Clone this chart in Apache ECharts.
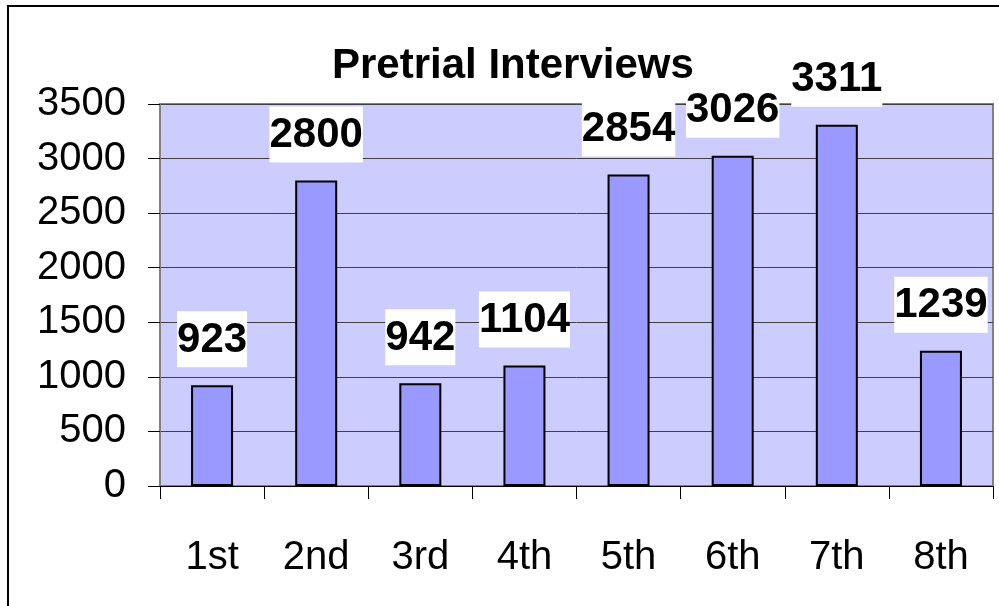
<!DOCTYPE html>
<html>
<head>
<meta charset="utf-8">
<script src="https://cdn.jsdelivr.net/npm/echarts@6/dist/echarts.min.js"></script>
<style>
  html, body { margin: 0; padding: 0; background: #fff; }
  #main { width: 999px; height: 606px; }
</style>
</head>
<body>
<div id="main"></div>
<script>
// data
var terms = ['1st', '2nd', '3rd', '4th', '5th', '6th', '7th', '8th'];
var interviews = [923, 2800, 942, 1104, 2854, 3026, 3311, 1239];
var yTicks = { min: 0, max: 3500, step: 500 };

var myChart = echarts.init(document.getElementById('main'));
var font = 'Liberation Sans, Arial, sans-serif';

myChart.setOption({
    animation: false,
    backgroundColor: '#fff',
    title: {
        text: 'Pretrial Interviews',
        left: 332,
        top: 45,
        padding: 0,
        textStyle: { fontFamily: font, fontSize: 42, fontWeight: 'bold', color: '#000' }
    },
    // frame round the chart (only left and top edges show)
    graphic: [{
        type: 'polyline',
        shape: { points: [[8, 606], [8, 6], [999, 6]] },
        style: { stroke: '#000', lineWidth: 2, fill: null },
        silent: true
    }],
    grid: {
        left: 160, right: 6, top: 104, bottom: 120,
        show: true,
        backgroundColor: '#CCCCFF',
        borderColor: '#808080',
        borderWidth: 2
    },
    xAxis: {
        type: 'category',
        data: terms,
        axisLine: { lineStyle: { color: '#000', width: 1 } },
        axisTick: { show: true, length: 13, lineStyle: { color: '#000' } },
        axisLabel: { margin: 52, fontFamily: font, fontSize: 40, color: '#000' }
    },
    yAxis: {
        type: 'value',
        min: yTicks.min,
        max: yTicks.max,
        interval: yTicks.step,
        axisLine: { show: true, lineStyle: { color: '#808080', width: 2 } },
        axisTick: { show: true, length: 12, lineStyle: { color: '#000' } },
        axisLabel: {
            margin: 34, fontFamily: font, fontSize: 40, color: '#000',
            formatter: function (v) { return String(v); }
        },
        splitLine: { lineStyle: { color: '#404040', width: 1 } }
    },
    series: [{
        name: 'Pretrial Interviews',
        type: 'bar',
        data: interviews,
        barWidth: 42,
        itemStyle: { color: '#9999FF', borderColor: '#000', borderWidth: 2 },
        label: {
            show: true,
            position: 'top',
            distance: 18,
            fontFamily: font,
            fontSize: 42,
            fontWeight: 'bold',
            color: '#000',
            backgroundColor: '#fff',
            lineHeight: 48,
            padding: [5, 0, 3, 0]
        }
    }]
});
</script>
</body>
</html>
